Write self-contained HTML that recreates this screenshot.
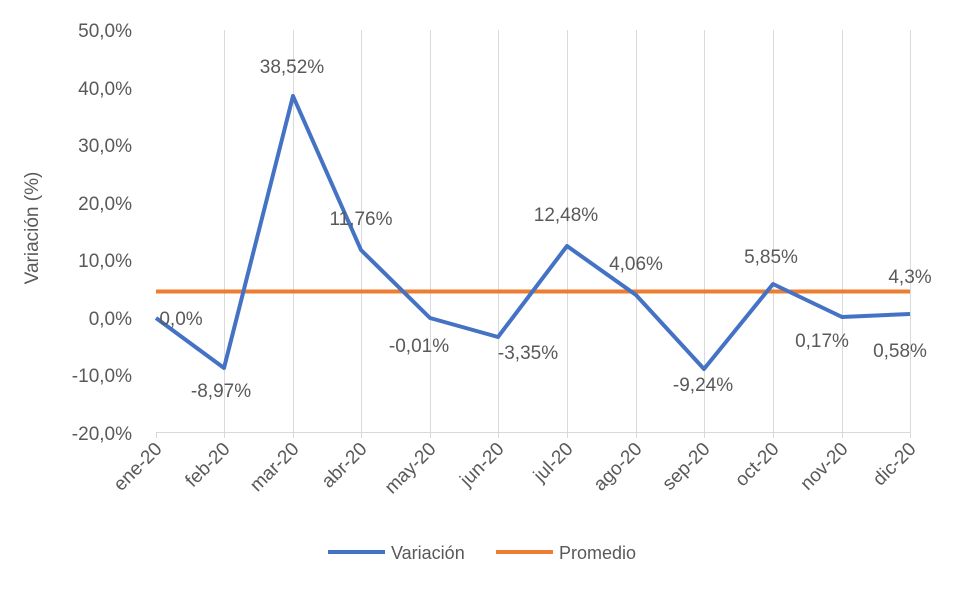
<!DOCTYPE html><html><head><style>body{margin:0;background:#fff}svg{display:block}text{font-family:"Liberation Sans",sans-serif;fill:#595959}</style></head><body>
<svg width="960" height="591" viewBox="0 0 960 591">
<g stroke="#d9d9d9" stroke-width="1">
<line x1="156.5" y1="432.5" x2="910.5" y2="432.5"/>
<path d="M156.5 432v6M224.5 30v408M293.5 30v408M361.5 30v408M430.5 30v408M498.5 30v408M567.5 30v408M636.5 30v408M704.5 30v408M773.5 30v408M842.5 30v408M910.5 30v408"/>
</g>
<g font-size="19" text-anchor="end">
<text x="132" y="37">50,0%</text><text x="132" y="95">40,0%</text><text x="132" y="152">30,0%</text><text x="132" y="210">20,0%</text><text x="132" y="267">10,0%</text><text x="132" y="325">0,0%</text><text x="132" y="382">-10,0%</text><text x="132" y="440">-20,0%</text>
</g>
<text transform="translate(38,228) rotate(-90)" font-size="19" text-anchor="middle">Variación (%)</text>
<g font-size="19" text-anchor="end">
<text transform="translate(163,450) rotate(-45)">ene-20</text>
<text transform="translate(231,450) rotate(-45)">feb-20</text>
<text transform="translate(300,450) rotate(-45)">mar-20</text>
<text transform="translate(368,450) rotate(-45)">abr-20</text>
<text transform="translate(437,450) rotate(-45)">may-20</text>
<text transform="translate(505,450) rotate(-45)">jun-20</text>
<text transform="translate(574,450) rotate(-45)">jul-20</text>
<text transform="translate(643,450) rotate(-45)">ago-20</text>
<text transform="translate(711,450) rotate(-45)">sep-20</text>
<text transform="translate(780,450) rotate(-45)">oct-20</text>
<text transform="translate(849,450) rotate(-45)">nov-20</text>
<text transform="translate(917,450) rotate(-45)">dic-20</text>
</g>
<line x1="156" y1="291.5" x2="910" y2="291.5" stroke="#ed7d31" stroke-width="4"/>
<polyline fill="none" stroke="#4472c4" stroke-width="4" stroke-linejoin="round" points="156,318 224,368 293,96 361,250 430,318 498,337 567,246 636,295 704,369 773,284 842,317 910,314"/>
<g font-size="19" text-anchor="middle">
<text x="181" y="325">0,0%</text><text x="221" y="397">-8,97%</text><text x="292" y="73">38,52%</text><text x="361" y="225">11,76%</text><text x="419" y="352">-0,01%</text><text x="528" y="359">-3,35%</text><text x="566" y="221">12,48%</text><text x="636" y="270">4,06%</text><text x="703" y="391">-9,24%</text><text x="771" y="263">5,85%</text><text x="822" y="347">0,17%</text><text x="900" y="357">0,58%</text><text x="910" y="283">4,3%</text>
</g>
<line x1="328" y1="552" x2="385" y2="552" stroke="#4472c4" stroke-width="4"/>
<text x="391" y="559" font-size="18">Variación</text>
<line x1="496" y1="552" x2="553" y2="552" stroke="#ed7d31" stroke-width="4"/>
<text x="559" y="559" font-size="18">Promedio</text>
</svg></body></html>
